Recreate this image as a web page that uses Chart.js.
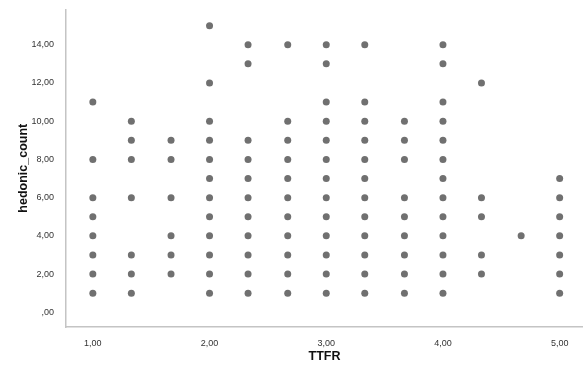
<!DOCTYPE html>
<html>
<head>
<meta charset="utf-8">
<script src="https://cdn.jsdelivr.net/npm/chart.js@4"></script>
<style>
    body { margin: 0; background: #fff; }
    #wrap { width: 583px; height: 367px; }
    canvas { display: block; }
</style>
</head>
<body>
<div id="wrap"><canvas id="scatterChart" width="583" height="367"></canvas></div>
<script>
// TTFR levels (x) and the hedonic_count values seen at each level (y)
const ttfrLevels = [1, 1.33, 1.67, 2, 2.33, 2.67, 3, 3.33, 3.67, 4, 4.33, 4.67, 5];
const hedonicAt100 = [11, 8, 6, 5, 4, 3, 2, 1];
const hedonicAt133 = [10, 9, 8, 6, 3, 2, 1];
const hedonicAt167 = [9, 8, 6, 4, 3, 2];
const hedonicAt200 = [15, 12, 10, 9, 8, 7, 6, 5, 4, 3, 2, 1];
const hedonicAt233 = [14, 13, 9, 8, 7, 6, 5, 4, 3, 2, 1];
const hedonicAt267 = [14, 10, 9, 8, 7, 6, 5, 4, 3, 2, 1];
const hedonicAt300 = [14, 13, 11, 10, 9, 8, 7, 6, 5, 4, 3, 2, 1];
const hedonicAt333 = [14, 11, 10, 9, 8, 7, 6, 5, 4, 3, 2, 1];
const hedonicAt367 = [10, 9, 8, 6, 5, 4, 3, 2, 1];
const hedonicAt400 = [14, 13, 11, 10, 9, 8, 7, 6, 5, 4, 3, 2, 1];
const hedonicAt433 = [12, 6, 5, 3, 2];
const hedonicAt467 = [4];
const hedonicAt500 = [7, 6, 5, 4, 3, 2, 1];

const xTicks = [1, 2, 3, 4, 5];
const xTickLabels = ['1,00', '2,00', '3,00', '4,00', '5,00'];
const yTicks = [0, 2, 4, 6, 8, 10, 12, 14];
const yTickLabels = [',00', '2,00', '4,00', '6,00', '8,00', '10,00', '12,00', '14,00'];

const hedonicColumns = [
    hedonicAt100, hedonicAt133, hedonicAt167, hedonicAt200, hedonicAt233,
    hedonicAt267, hedonicAt300, hedonicAt333, hedonicAt367, hedonicAt400,
    hedonicAt433, hedonicAt467, hedonicAt500
];

const points = [];
ttfrLevels.forEach((x, i) => {
    hedonicColumns[i].forEach(y => points.push({ x: x, y: y }));
});

const tickFont = { family: '"Liberation Sans", Arial, sans-serif', size: 9 };
const titleFont = { family: '"Liberation Sans", Arial, sans-serif', size: 12.5, weight: 'bold' };

new Chart(document.getElementById('scatterChart'), {
    type: 'scatter',
    data: {
        datasets: [{
            data: points,
            backgroundColor: '#707070',
            borderWidth: 0,
            pointRadius: 3.5,
            pointHoverRadius: 3.5
        }]
    },
    options: {
        responsive: false,
        animation: false,
        // no extra room for point radius: the plot runs to the canvas edge
        layout: { autoPadding: false, padding: { top: 9, right: 0, left: 0, bottom: 0 } },
        plugins: {
            legend: { display: false },
            tooltip: { enabled: false }
        },
        scales: {
            x: {
                type: 'linear',
                min: 0.77,
                max: 5.2,
                grid: { display: false },
                border: { display: true, color: '#c4c4c4', width: 1.5 },
                afterBuildTicks: scale => { scale.ticks = xTicks.map(v => ({ value: v })); },
                afterFit: scale => { scale.height = 40; },
                ticks: {
                    font: tickFont,
                    color: '#333',
                    padding: 3,
                    maxRotation: 0,
                    callback: value => xTickLabels[xTicks.indexOf(value)]
                },
                title: {
                    display: true,
                    text: 'TTFR',
                    font: titleFont,
                    color: '#111',
                    padding: { top: 0, bottom: 2.8 }
                }
            },
            y: {
                type: 'linear',
                min: -0.77,
                max: 15.85,
                grid: { display: false },
                border: { display: true, color: '#c4c4c4', width: 1.5 },
                afterBuildTicks: scale => { scale.ticks = yTicks.map(v => ({ value: v })); },
                afterFit: scale => { scale.width = 66; },
                ticks: {
                    font: tickFont,
                    color: '#333',
                    padding: 4,
                    callback: value => yTickLabels[yTicks.indexOf(value)]
                },
                title: {
                    display: true,
                    text: 'hedonic_count',
                    font: titleFont,
                    color: '#111',
                    padding: { top: 16.5, bottom: 0 }
                }
            }
        }
    }
});
</script>
</body>
</html>
